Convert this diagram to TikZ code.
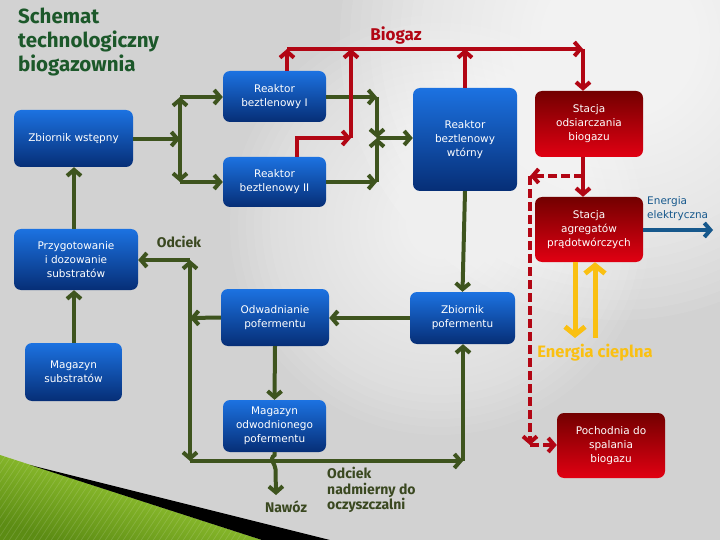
\documentclass[tikz,border=0pt]{standalone}
\usepackage{fontspec}
\setmainfont{DejaVu Sans}
\newfontfamily\boxfont{DejaVu Sans}
\newfontfamily\labfont{Fira Sans}
\usetikzlibrary{arrows.meta,shadings}
\definecolor{bggray}{RGB}{210,210,210}
\definecolor{bluetop}{RGB}{28,114,225}
\definecolor{bluebot}{RGB}{6,46,118}
\definecolor{redtop}{RGB}{115,0,0}
\definecolor{redbot}{RGB}{225,0,18}
\definecolor{olivegr}{RGB}{62,84,30}
\definecolor{gasred}{RGB}{178,6,20}
\definecolor{heatyel}{RGB}{250,192,18}
\definecolor{elblue}{RGB}{22,88,140}
\definecolor{titlegr}{RGB}{28,88,42}
\definecolor{labolive}{RGB}{58,72,32}
\definecolor{wedgedark}{RGB}{92,140,20}
\definecolor{wedgelight}{RGB}{172,222,62}
\tikzset{
  boxbase/.style={rounded corners=7pt, text=white, align=center, inner sep=0pt,
    font=\boxfont\fontsize{10.5}{14}\selectfont},
  bbox/.style={boxbase, top color=bluetop, bottom color=bluebot},
  rbox/.style={boxbase, top color=redtop, bottom color=redbot},
  garr/.style={draw=olivegr, line width=4pt, line cap=butt},
  rarr/.style={draw=gasred, line width=4pt},
  yarr/.style={draw=heatyel, line width=5pt},
  barr/.style={draw=elblue, line width=4pt},
  lab/.style={font=\labfont\bfseries\fontsize{14}{15.5}\selectfont, text=labolive, inner sep=0pt},
  gtip/.tip={Straight Barb[length=6pt,width=14pt]},
  ytip/.tip={Straight Barb[length=8pt,width=20pt]}
}
\begin{document}
\begin{tikzpicture}[x=1pt,y=-1pt]
\useasboundingbox (0,0) rectangle (720,540);
\fill[bggray] (0,0) rectangle (720,540);
\begin{scope}
  \clip (0,0) rectangle (720,540);
  % soft white glow (diagonal band, upper right)
  \foreach \k in {0,...,23}{
    \fill[white, opacity=0.075] (620,40) circle ({280-10*\k});
    \fill[white, opacity=0.06] (440,225) circle ({210-8*\k});
  }
  % green wedge bottom-left
  \shade[top color=wedgelight, bottom color=wedgedark, shading angle=-18]
    (0,455) -- (262,540) -- (0,540) -- cycle;
  \begin{scope}
    \clip (0,455) -- (262,540) -- (0,540) -- cycle;
    \foreach \i in {0,6,...,300}{
      \draw[white, opacity=0.12, line width=0.8pt] (\i,455) -- ++(-60,90);
    }
  \end{scope}
  \fill[black] (30,465) -- (330,540) -- (262,540) -- cycle;
\end{scope}

% title
\node[anchor=north west, inner sep=0pt, align=left, text=titlegr,
  font=\labfont\bfseries\fontsize{20.5}{24}\selectfont] (title) at (18,8)
  {Schemat\\technologiczny\\biogazownia};

% boxes
\node[bbox, minimum width=119, minimum height=57] (zw) at (73.5,138.5) {Zbiornik wstępny};
\node[bbox, minimum width=103, minimum height=51] (r1) at (274.5,96.5) {Reaktor\\beztlenowy I};
\node[bbox, minimum width=103, minimum height=50] (r2) at (274.5,182) {Reaktor\\beztlenowy II};
\node[bbox, minimum width=104, minimum height=103] (rw) at (465,139.5) {Reaktor\\beztlenowy\\wtórny};
\node[rbox, minimum width=108, minimum height=66] (so) at (589,124) {Stacja\\odsiarczania\\biogazu};
\node[rbox, minimum width=108, minimum height=65] (sa) at (589,229.5) {Stacja\\agregatów\\prądotwórczych};
\node[bbox, minimum width=124, minimum height=61] (pd) at (76,259.5) {Przygotowanie\\i dozowanie\\substratów};
\node[bbox, minimum width=97, minimum height=58] (ms) at (73.5,372) {Magazyn\\substratów};
\node[bbox, minimum width=108, minimum height=57] (od) at (275,317.5) {Odwadnianie\\pofermentu};
\node[bbox, minimum width=105, minimum height=52] (zp) at (462.5,318) {Zbiornik\\pofermentu};
\node[bbox, minimum width=103, minimum height=52] (mo) at (274.5,426) {Magazyn\\odwodnionego\\pofermentu};
\node[rbox, minimum width=108, minimum height=65] (po) at (611,445.5) {Pochodnia do\\spalania\\biogazu};

% junction coordinates
\coordinate (j1) at (180,139);
\coordinate (j1t) at (180,97);
\coordinate (j1b) at (180,182);
\coordinate (j2) at (377,138);
\coordinate (j2t) at (377,97);
\coordinate (j2b) at (377,182);
\coordinate (j3) at (190,318);
\coordinate (j4) at (190,461);
\coordinate (j5) at (190,260);
\coordinate (j6) at (463,461);
\coordinate (naw) at (276,495);
\coordinate (b1) at (287,49);
\coordinate (b2) at (351,49);
\coordinate (b3) at (465,49);
\coordinate (b4) at (583,49);
\coordinate (k0) at (297,138);
\coordinate (k1) at (351,138);
\coordinate (d1) at (583,176);
\coordinate (d2) at (530,176);
\coordinate (d3) at (530,445);
\coordinate (el) at (713,230);

% green connectors
\draw[garr, -{gtip}] (zw.east |- j1) -- (j1);
\draw[garr, {gtip}-{gtip}] (j1t) -- (j1b);
\draw[garr, -{gtip}] (j1t) -- (r1.west |- j1t);
\draw[garr, -{gtip}] (j1b) -- (r2.west |- j1b);
\draw[garr, -{gtip}] (r1.east |- j2t) -- (j2t);
\draw[garr, -{gtip}] (j2t) -- (j2);
\draw[garr, -{gtip}] (r2.east |- j2b) -- (j2b);
\draw[garr, -{gtip}] (j2b) -- (j2);
\draw[garr, -{gtip}] (j2) -- (rw.west |- j2);
\draw[garr, -{gtip}] (rw.south) -- (zp.north);
\draw[garr, -{gtip}] (zp.west) -- (od.east |- zp.west);
\draw[garr, -{gtip}] (od.west) -- (j3);
\draw[garr, -{gtip}] (j3) -- (j5);
\draw[garr, -{gtip}] (j3) -- (j4);
\draw[garr, -{gtip}] (j5) -- (pd.east |- j5);
\draw[garr, -{gtip}] (j4) -- (j6);
\draw[garr, -{gtip}] (j6) -- (zp.south -| j6);
\draw[garr, -{gtip}] (od.south) -- (mo.north);
\draw[garr, -{gtip}] (mo.south) -- ++(0,3) .. controls +(-6,4) and +(0,-5) .. ++(1,14) -- (naw);
\draw[garr, -{gtip}] (pd.north -| 74,0) -- (zw.south -| 74,0);
\draw[garr, -{gtip}] (ms.north -| 74,0) -- (pd.south -| 74,0);

% red biogas connectors
\draw[rarr, -{gtip}] (r1.north -| b1) -- (b1);
\draw[rarr, -{gtip}] (r2.north -| k0) -- (k0) -- (k1);
\draw[rarr, -{gtip}] (k1) -- (b2);
\draw[rarr, -{gtip}] (rw.north) -- (b3);
\draw[rarr, -{gtip}] (b1) -- (b4);
\draw[rarr, -{gtip}] (b4) -- (so.north -| b4);
\draw[rarr, -{gtip}] (so.south -| b4) -- (sa.north -| b4);
\draw[rarr, dashed, dash pattern=on 9pt off 4pt, -{gtip}] (d1) -- (d2);
\draw[rarr, dashed, dash pattern=on 9pt off 4pt, -{gtip}] (d2) -- (d3);
\draw[rarr, dashed, dash pattern=on 9pt off 4pt, -{gtip}] (d3) -- (po.west |- d3);

% energy
\draw[barr, -{gtip}] (sa.east |- el) -- (el);
\draw[yarr, -{ytip}] (sa.south -| 575,0) -- (575,338);
\draw[yarr, -{ytip}] (595,338) -- (sa.south -| 595,0);

% labels
\node[font=\labfont\fontsize{17}{20}\selectfont\bfseries, text=gasred, inner sep=0pt] (lbio) at (396,35) {Biogaz};
\node[lab] (lodc) at (179,242) {Odciek};
\node[lab, text=heatyel, font=\labfont\bfseries\fontsize{16.5}{18}\selectfont] (lheat) at (595,353) {Energia cieplna};
\node[lab] (lnaw) at (286,507) {Nawóz};
\node[lab, anchor=north west, align=left] (lnad) at (327,467) {Odciek\\nadmierny do\\oczyszczalni};
\node[anchor=west, align=left, inner sep=0pt, text=elblue, font=\boxfont\fontsize{10.5}{14}\selectfont] (lel) at (647,209) {Energia\\elektryczna};
\end{tikzpicture}
\end{document}
